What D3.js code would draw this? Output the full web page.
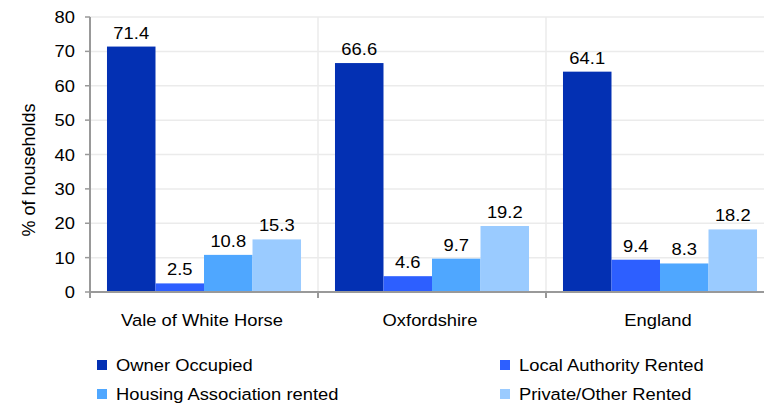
<!DOCTYPE html>
<html>
<head>
<meta charset="utf-8">
<script src="https://cdn.jsdelivr.net/npm/d3@7"></script>
<style>
  html, body { margin: 0; padding: 0; background: #fff; }
  svg { display: block; font-family: "Liberation Sans", Arial, sans-serif; }
</style>
</head>
<body>
<svg id="chart" width="764" height="404"></svg>
<script>
// Housing tenure by area (% of households)
const areas = ["Vale of White Horse", "Oxfordshire", "England"];
const tenures = ["Owner Occupied", "Local Authority Rented", "Housing Association rented", "Private/Other Rented"];
const ownerOccupied = [71.4, 66.6, 64.1];
const localAuthority = [2.5, 4.6, 9.4];
const housingAssociation = [10.8, 9.7, 8.3];
const privateOther = [15.3, 19.2, 18.2];
const yTicks = [0, 10, 20, 30, 40, 50, 60, 70, 80];
const colours = ["#0330B3", "#2D5FFF", "#4FA7FF", "#9ACBFF"];

const seriesValues = [ownerOccupied, localAuthority, housingAssociation, privateOther];

const svg = d3.select("#chart");
const sx = 1.08; // horizontal text stretch
const fontSize = 17;

const plot = { left: 90, right: 774, top: 17, bottom: 292 };

const x0 = d3.scaleBand().domain(areas).range([plot.left, plot.right]).paddingInner(0.149).paddingOuter(0.0745);
const x1 = d3.scaleBand().domain(tenures).range([0, x0.bandwidth()]);
const y = d3.scaleLinear().domain([0, 80]).range([plot.bottom, plot.top]);

function label(sel, x, yPos, text, anchor, rotate, size) {
  const g = sel.append("g")
    .attr("transform", `translate(${x},${yPos})` + (rotate ? ` rotate(${rotate})` : ` scale(${sx},1)`));
  g.append("text")
    .attr("text-anchor", anchor)
    .attr("font-size", size || fontSize)
    .attr("fill", "#000")
    .text(text);
  return g;
}

// Horizontal gridlines
svg.append("g").selectAll("line").data(yTicks.filter(d => d > 0)).join("line")
  .attr("x1", plot.left).attr("x2", plot.right)
  .attr("y1", d => y(d)).attr("y2", d => y(d))
  .attr("stroke", "#ebebeb").attr("stroke-width", 1.5);

// Vertical separators between areas
const step = x0.step();
const sepX = areas.map((a, i) => plot.left + step * (i + 1)).slice(0, 2);
svg.append("g").selectAll("line").data(sepX).join("line")
  .attr("x1", d => d).attr("x2", d => d)
  .attr("y1", plot.top).attr("y2", plot.bottom)
  .attr("stroke", "#ebebeb").attr("stroke-width", 1.5);

// Bars
const groups = svg.append("g").selectAll("g").data(areas).join("g")
  .attr("transform", d => `translate(${x0(d)},0)`);

groups.each(function (area, ai) {
  const g = d3.select(this);
  tenures.forEach((t, ti) => {
    const v = seriesValues[ti][ai];
    g.append("rect")
      .attr("x", x1(t))
      .attr("y", y(v))
      .attr("width", x1.bandwidth())
      .attr("height", y(0) - y(v))
      .attr("fill", colours[ti]);
    label(g, x1(t) + x1.bandwidth() / 2, y(v) - 8, v.toFixed(1), "middle");
  });
});

// Y axis
const yAxis = svg.append("g");
yAxis.append("line")
  .attr("x1", plot.left).attr("x2", plot.left)
  .attr("y1", plot.top).attr("y2", plot.bottom)
  .attr("stroke", "#999").attr("stroke-width", 2);
yTicks.forEach(t => {
  yAxis.append("line")
    .attr("x1", plot.left - 5).attr("x2", plot.left)
    .attr("y1", y(t)).attr("y2", y(t))
    .attr("stroke", "#999").attr("stroke-width", 1.5);
  label(yAxis, plot.left - 15, y(t) + 6, String(t), "end");
});

// X axis
const xAxis = svg.append("g");
xAxis.append("line")
  .attr("x1", plot.left).attr("x2", plot.right)
  .attr("y1", plot.bottom).attr("y2", plot.bottom)
  .attr("stroke", "#999").attr("stroke-width", 2);
[plot.left, ...sepX].forEach(px => {
  xAxis.append("line")
    .attr("x1", px).attr("x2", px)
    .attr("y1", plot.bottom).attr("y2", plot.bottom + 6)
    .attr("stroke", "#999").attr("stroke-width", 2);
});
areas.forEach(a => {
  label(xAxis, x0(a) + x0.bandwidth() / 2 - 2, 326, a, "middle");
});

// Y axis title
label(svg, 35, 170, "% of households", "middle", -90, 18);

// Legend
const legendPos = [
  { x: 97, y: 365 }, { x: 500, y: 365 },
  { x: 97, y: 394 }, { x: 500, y: 394 }
];
tenures.forEach((t, i) => {
  const p = legendPos[i];
  svg.append("rect")
    .attr("x", p.x).attr("y", p.y - 5)
    .attr("width", 10).attr("height", 10)
    .attr("fill", colours[i]);
  label(svg, p.x + 19, p.y + 6, t, "start");
});
</script>
</body>
</html>
